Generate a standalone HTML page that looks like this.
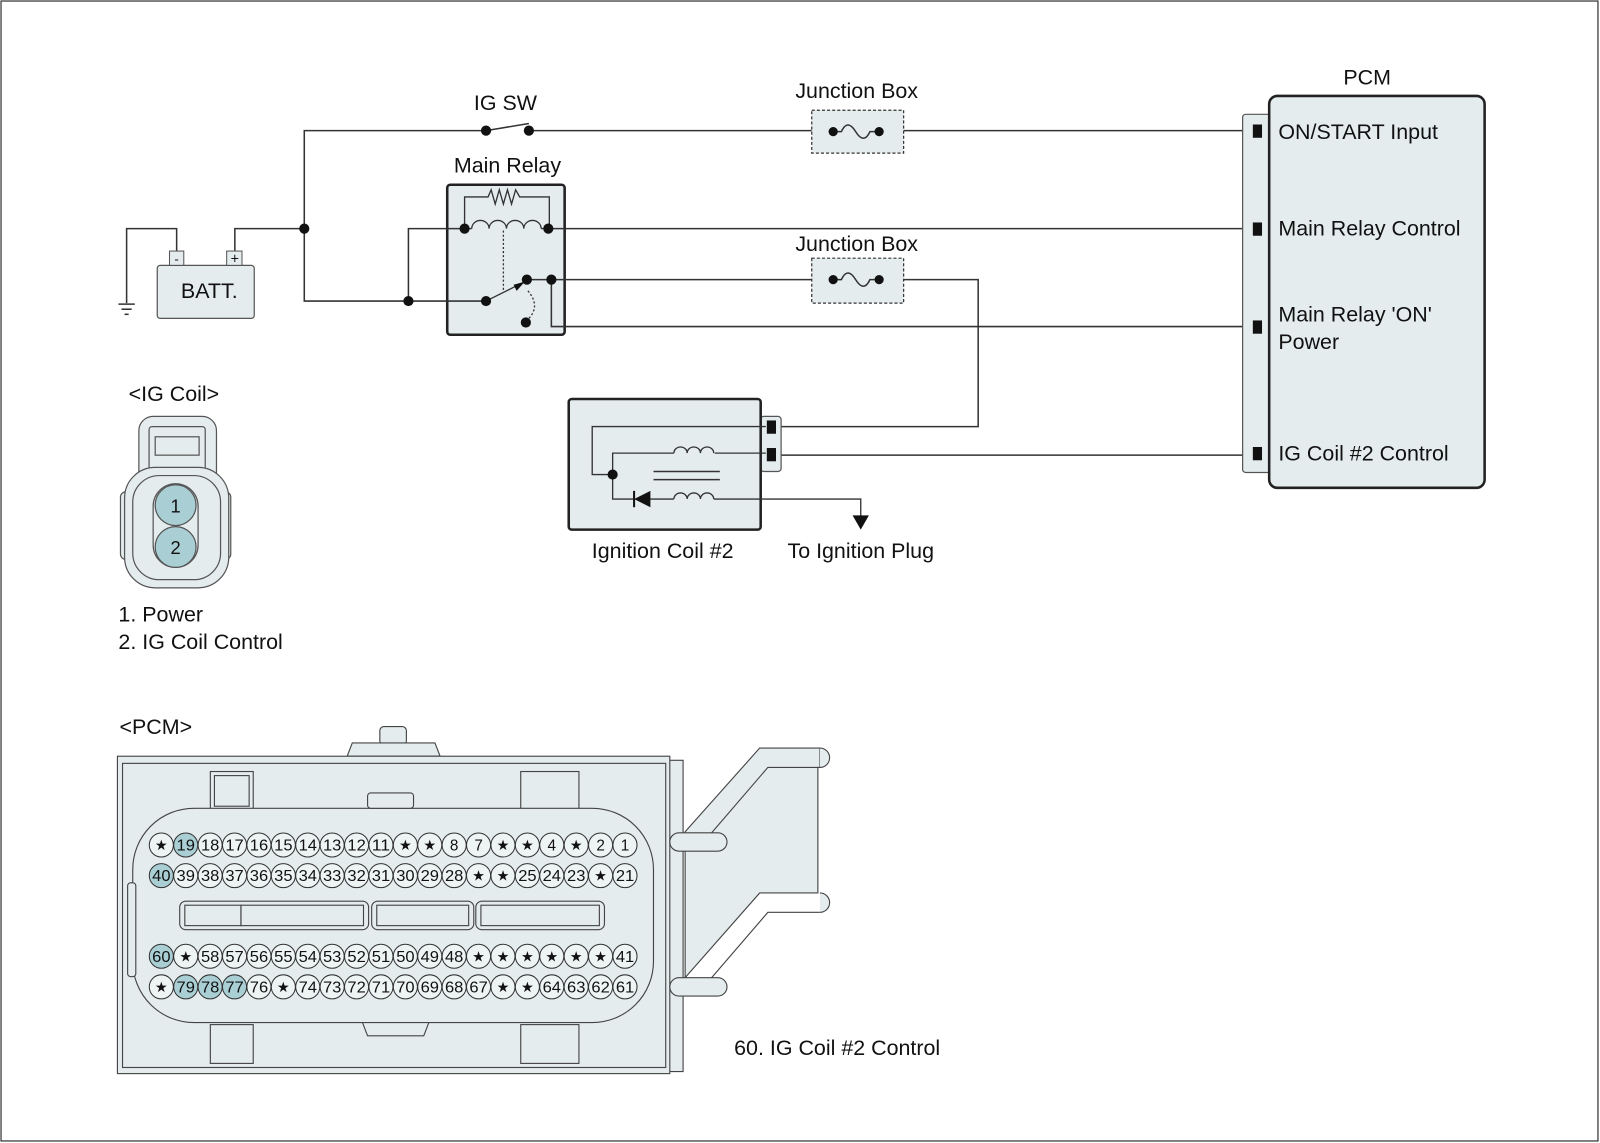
<!DOCTYPE html>
<html><head><meta charset="utf-8"><style>
html,body{margin:0;padding:0;background:#fff}
svg{display:block}
text{font-family:"Liberation Sans",Arial,sans-serif;fill:#111}
.p circle{fill:#eef3f4;stroke:#333;stroke-width:1}
.p.h circle{fill:#a9cfd5}
.p text{font-size:15px;text-anchor:middle}
.p text.s{font-family:"DejaVu Sans",sans-serif;font-size:14px}
</style></head><body>
<svg width="1600" height="1143" viewBox="0 0 1567 1120" preserveAspectRatio="none" xmlns="http://www.w3.org/2000/svg">
<rect x="1" y="1" width="1564" height="1117" fill="#fff" stroke="#333" stroke-width="1.2"/>
<!-- main relay box first -->
<rect x="438" y="181" width="115" height="147" rx="3" fill="#e4ecee" stroke="#222" stroke-width="2.5"/>
<g fill="none" stroke="#333" stroke-width="1.5">
<polyline points="476,128 298,128 298,295 476,295"/>
<line x1="518" y1="128" x2="795" y2="128"/>
<line x1="885" y1="128" x2="1228" y2="128"/>
<line x1="476" y1="128" x2="518" y2="121"/>
<polyline points="230,246 230,224 298,224"/>
<polyline points="173,246 173,224 124,224 124,297"/>
<line x1="116" y1="298" x2="132" y2="298"/><line x1="119" y1="303" x2="129" y2="303"/><line x1="122" y1="308" x2="126" y2="308"/>
<polyline points="400,295 400,224 455,224"/>
<line x1="537" y1="224" x2="1228" y2="224"/>
<line x1="540" y1="274" x2="795" y2="274"/>
<line x1="516" y1="274" x2="540" y2="274"/>
<polyline points="540,274 540,320 1228,320"/>
<polyline points="885,274 958,274 958,418 765,418"/>
<line x1="765" y1="446" x2="1228" y2="446"/>
</g>
<!-- battery -->
<rect x="154" y="260" width="95" height="52" rx="3" fill="#e4ecee" stroke="#555" stroke-width="1.2"/>
<rect x="166" y="246" width="14" height="14" fill="#e4ecee" stroke="#555"/>
<rect x="222" y="246" width="15" height="14" fill="#e4ecee" stroke="#555"/>
<text x="173" y="258" font-size="13" text-anchor="middle">-</text>
<text x="230" y="258" font-size="14" text-anchor="middle">+</text>
<text x="205" y="292" font-size="21" text-anchor="middle">BATT.</text>
<!-- labels -->
<text x="495" y="108" font-size="21" text-anchor="middle">IG SW</text>
<text x="497" y="169" font-size="21" text-anchor="middle">Main Relay</text>
<text x="839" y="96" font-size="21" text-anchor="middle">Junction Box</text>
<text x="839" y="246" font-size="21" text-anchor="middle">Junction Box</text>
<text x="1339" y="83" font-size="21" text-anchor="middle">PCM</text>
<!-- junction boxes -->
<rect x="795" y="108" width="90" height="42" fill="#e4ecee" stroke="#333" stroke-width="1.2" stroke-dasharray="3,2"/>
<path d="M816,129 L824,129 Q830,116 838,129 Q846,142 852,129 L861,129" fill="none" stroke="#333" stroke-width="1.5"/>
<circle cx="816" cy="129" r="4.5" fill="#111"/><circle cx="861" cy="129" r="4.5" fill="#111"/>
<rect x="795" y="253" width="90" height="44" fill="#e4ecee" stroke="#333" stroke-width="1.2" stroke-dasharray="3,2"/>
<path d="M816,274 L824,274 Q830,261 838,274 Q846,287 852,274 L861,274" fill="none" stroke="#333" stroke-width="1.5"/>
<circle cx="816" cy="274" r="4.5" fill="#111"/><circle cx="861" cy="274" r="4.5" fill="#111"/>
<!-- relay internals -->
<g fill="none" stroke="#333" stroke-width="1.3">
<polyline points="455,224 455,193 478,193 481,186 485,200 489,186 493,200 497,186 501,200 505,186 509,193 538,193 538,224"/>
<line x1="455" y1="224" x2="462" y2="224"/>
<path d="M462,224 a8.5,8 0 0 1 17,0 a8.5,8 0 0 1 17,0 a8.5,8 0 0 1 17,0 a8.5,8 0 0 1 17,0"/>
<line x1="530" y1="224" x2="537" y2="224"/>
<line x1="493" y1="226" x2="493" y2="286" stroke-dasharray="2,2"/>
<line x1="476" y1="295" x2="510" y2="278"/>
<path d="M517,285 Q530,300 517,313" stroke-dasharray="2,2"/>
</g>
<polygon points="514,276 503,279 506,285" fill="#111"/>
<g fill="#111">
<circle cx="298" cy="224" r="5"/><circle cx="400" cy="295" r="5"/>
<circle cx="476" cy="128" r="5"/><circle cx="518" cy="128" r="5"/>
<circle cx="455" cy="224" r="5"/><circle cx="537" cy="224" r="5"/>
<circle cx="476" cy="295" r="5"/><circle cx="516" cy="274" r="5"/><circle cx="540" cy="274" r="5"/>
<circle cx="515" cy="316" r="5"/>
</g>
<!-- PCM -->
<rect x="1217" y="112" width="30" height="351" rx="3" fill="#e4ecee" stroke="#555" stroke-width="1.2"/>
<rect x="1243" y="94" width="211" height="384" rx="8" fill="#e4ecee" stroke="#222" stroke-width="2.5"/>
<g fill="#111">
<rect x="1227" y="122" width="9" height="13"/><rect x="1227" y="218" width="9" height="13"/>
<rect x="1227" y="314" width="9" height="13"/><rect x="1227" y="438" width="9" height="13"/>
</g>
<g font-size="21">
<text x="1252" y="136">ON/START Input</text>
<text x="1252" y="231">Main Relay Control</text>
<text x="1252" y="315">Main Relay 'ON'</text>
<text x="1252" y="342">Power</text>
<text x="1252" y="451">IG Coil #2 Control</text>
</g>
<!-- ignition coil -->
<rect x="745" y="408" width="20" height="54" rx="3" fill="#e4ecee" stroke="#555" stroke-width="1.2"/>
<rect x="557" y="391" width="188" height="128" rx="3" fill="#e4ecee" stroke="#222" stroke-width="2.5"/>
<g fill="none" stroke="#333" stroke-width="1.3">
<polyline points="750,418 580,418 580,465 600,465"/>
<polyline points="750,444 700,444"/>
<path d="M660,444 a6.5,6 0 0 1 13,0 a6.5,6 0 0 1 13,0 a6.5,6 0 0 1 13,0"/>
<polyline points="660,444 600,444 600,489 622,489"/>
<line x1="637" y1="489" x2="660" y2="489"/>
<path d="M660,489 a6.5,6 0 0 1 13,0 a6.5,6 0 0 1 13,0 a6.5,6 0 0 1 13,0"/>
<polyline points="699,489 843,489 843,506"/>
<line x1="640" y1="462" x2="705" y2="462" stroke-width="1.5"/>
<line x1="640" y1="470" x2="705" y2="470" stroke-width="1.5"/>
</g>
<polygon points="621,489 637,481 637,497" fill="#111"/>
<line x1="621" y1="481" x2="621" y2="497" stroke="#111" stroke-width="2"/>
<polygon points="835,505 851,505 843,519" fill="#111"/>
<circle cx="600" cy="465" r="5" fill="#111"/>
<rect x="751" y="412" width="9" height="13" fill="#111"/><rect x="751" y="439" width="9" height="13" fill="#111"/>
<text x="649" y="547" font-size="21" text-anchor="middle">Ignition Coil #2</text>
<text x="843" y="547" font-size="21" text-anchor="middle">To Ignition Plug</text>
<!-- IG coil connector -->
<text x="126" y="393" font-size="21">&lt;IG Coil&gt;</text>
<g stroke="#555" stroke-width="1.2" fill="#e4ecee">
<rect x="118" y="482" width="14" height="66" rx="5"/>
<rect x="212" y="482" width="14" height="66" rx="5"/>
<rect x="136" y="408" width="76" height="72" rx="14"/>
<rect x="146" y="418" width="55" height="56" rx="3"/>
<rect x="152" y="428" width="43" height="18" fill="none"/>
<rect x="122" y="458" width="102" height="118" rx="30"/>
<rect x="130" y="466" width="86" height="102" rx="26"/>
<rect x="150" y="474" width="44" height="82" rx="22"/>
<circle cx="172" cy="495" r="20" fill="#a9cfd5"/>
<circle cx="172" cy="536" r="20" fill="#a9cfd5"/>
</g>
<text x="172" y="502" font-size="18" text-anchor="middle">1</text>
<text x="172" y="543" font-size="18" text-anchor="middle">2</text>
<text x="116" y="609" font-size="21">1. Power</text>
<text x="116" y="636" font-size="21">2. IG Coil Control</text>
<!-- PCM connector -->
<text x="117" y="719" font-size="21">&lt;PCM&gt;</text>
<g stroke="#444" stroke-width="1.1" fill="#e4ecee">
<polygon points="671,815 744,733 803,733 803,752 801,752 801,875 744,875 671,958"/>
<path d="M803,733 a9.5,9.5 0 0 1 0,19 M803,875 a9.5,9.5 0 0 1 0,19"/>
<polyline points="803,894 752,894 697,958" fill="none"/>
<polyline points="803,752 752,752 697,816" fill="none"/>
<rect x="372" y="712" width="26" height="18" rx="4"/>
<path d="M340,741 L345,728 L426,728 L431,741 Z"/>
<rect x="655" y="745" width="14" height="305"/>
<rect x="115" y="741" width="541" height="311"/>
<rect x="120" y="748" width="532" height="298" fill="none"/>
<rect x="656" y="816" width="56" height="18" rx="9"/>
<rect x="656" y="958" width="56" height="18" rx="9"/>
<rect x="206" y="756" width="42" height="38"/>
<rect x="210" y="760" width="34" height="30" fill="none"/>
<rect x="510" y="756" width="57" height="40"/>
<rect x="206" y="1004" width="42" height="38"/>
<rect x="510" y="1004" width="57" height="38"/>
<rect x="130" y="792" width="510" height="210" rx="60"/>
<rect x="360" y="777" width="45" height="15" rx="3"/>
<path d="M355,1002 L360,1015 L415,1015 L420,1002" fill="none"/>
<rect x="125" y="865" width="8" height="92" rx="3"/>
<rect x="176" y="883" width="185" height="28" rx="6"/>
<rect x="181" y="887" width="55" height="20" fill="none"/>
<rect x="236" y="887" width="120" height="20" fill="none"/>
<rect x="364" y="883" width="100" height="28" rx="6"/>
<rect x="369" y="887" width="90" height="20" fill="none"/>
<rect x="466" y="883" width="126" height="28" rx="6"/>
<rect x="471" y="887" width="116" height="20" fill="none"/>
</g>
<!-- pins row 1 -->
<g transform="translate(0,828)">
<g class="p" transform="translate(158,0)"><circle r="11.8"/><text class="s" y="5">★</text></g>
<g class="p h" transform="translate(181.9,0)"><circle r="11.8"/><text y="5.5" textLength="18" lengthAdjust="spacingAndGlyphs">19</text></g>
<g class="p" transform="translate(205.8,0)"><circle r="11.8"/><text y="5.5" textLength="18" lengthAdjust="spacingAndGlyphs">18</text></g>
<g class="p" transform="translate(229.7,0)"><circle r="11.8"/><text y="5.5" textLength="18" lengthAdjust="spacingAndGlyphs">17</text></g>
<g class="p" transform="translate(253.6,0)"><circle r="11.8"/><text y="5.5" textLength="18" lengthAdjust="spacingAndGlyphs">16</text></g>
<g class="p" transform="translate(277.5,0)"><circle r="11.8"/><text y="5.5" textLength="18" lengthAdjust="spacingAndGlyphs">15</text></g>
<g class="p" transform="translate(301.4,0)"><circle r="11.8"/><text y="5.5" textLength="18" lengthAdjust="spacingAndGlyphs">14</text></g>
<g class="p" transform="translate(325.3,0)"><circle r="11.8"/><text y="5.5" textLength="18" lengthAdjust="spacingAndGlyphs">13</text></g>
<g class="p" transform="translate(349.2,0)"><circle r="11.8"/><text y="5.5" textLength="18" lengthAdjust="spacingAndGlyphs">12</text></g>
<g class="p" transform="translate(373.1,0)"><circle r="11.8"/><text y="5.5" textLength="18" lengthAdjust="spacingAndGlyphs">11</text></g>
<g class="p" transform="translate(397,0)"><circle r="11.8"/><text class="s" y="5">★</text></g>
<g class="p" transform="translate(420.9,0)"><circle r="11.8"/><text class="s" y="5">★</text></g>
<g class="p" transform="translate(444.8,0)"><circle r="11.8"/><text y="5.5">8</text></g>
<g class="p" transform="translate(468.7,0)"><circle r="11.8"/><text y="5.5">7</text></g>
<g class="p" transform="translate(492.6,0)"><circle r="11.8"/><text class="s" y="5">★</text></g>
<g class="p" transform="translate(516.5,0)"><circle r="11.8"/><text class="s" y="5">★</text></g>
<g class="p" transform="translate(540.4,0)"><circle r="11.8"/><text y="5.5">4</text></g>
<g class="p" transform="translate(564.3,0)"><circle r="11.8"/><text class="s" y="5">★</text></g>
<g class="p" transform="translate(588.2,0)"><circle r="11.8"/><text y="5.5">2</text></g>
<g class="p" transform="translate(612.1,0)"><circle r="11.8"/><text y="5.5">1</text></g>
</g>
<!-- row 2 -->
<g transform="translate(0,858)">
<g class="p h" transform="translate(158,0)"><circle r="11.8"/><text y="5.5" textLength="18" lengthAdjust="spacingAndGlyphs">40</text></g>
<g class="p" transform="translate(181.9,0)"><circle r="11.8"/><text y="5.5" textLength="18" lengthAdjust="spacingAndGlyphs">39</text></g>
<g class="p" transform="translate(205.8,0)"><circle r="11.8"/><text y="5.5" textLength="18" lengthAdjust="spacingAndGlyphs">38</text></g>
<g class="p" transform="translate(229.7,0)"><circle r="11.8"/><text y="5.5" textLength="18" lengthAdjust="spacingAndGlyphs">37</text></g>
<g class="p" transform="translate(253.6,0)"><circle r="11.8"/><text y="5.5" textLength="18" lengthAdjust="spacingAndGlyphs">36</text></g>
<g class="p" transform="translate(277.5,0)"><circle r="11.8"/><text y="5.5" textLength="18" lengthAdjust="spacingAndGlyphs">35</text></g>
<g class="p" transform="translate(301.4,0)"><circle r="11.8"/><text y="5.5" textLength="18" lengthAdjust="spacingAndGlyphs">34</text></g>
<g class="p" transform="translate(325.3,0)"><circle r="11.8"/><text y="5.5" textLength="18" lengthAdjust="spacingAndGlyphs">33</text></g>
<g class="p" transform="translate(349.2,0)"><circle r="11.8"/><text y="5.5" textLength="18" lengthAdjust="spacingAndGlyphs">32</text></g>
<g class="p" transform="translate(373.1,0)"><circle r="11.8"/><text y="5.5" textLength="18" lengthAdjust="spacingAndGlyphs">31</text></g>
<g class="p" transform="translate(397,0)"><circle r="11.8"/><text y="5.5" textLength="18" lengthAdjust="spacingAndGlyphs">30</text></g>
<g class="p" transform="translate(420.9,0)"><circle r="11.8"/><text y="5.5" textLength="18" lengthAdjust="spacingAndGlyphs">29</text></g>
<g class="p" transform="translate(444.8,0)"><circle r="11.8"/><text y="5.5" textLength="18" lengthAdjust="spacingAndGlyphs">28</text></g>
<g class="p" transform="translate(468.7,0)"><circle r="11.8"/><text class="s" y="5">★</text></g>
<g class="p" transform="translate(492.6,0)"><circle r="11.8"/><text class="s" y="5">★</text></g>
<g class="p" transform="translate(516.5,0)"><circle r="11.8"/><text y="5.5" textLength="18" lengthAdjust="spacingAndGlyphs">25</text></g>
<g class="p" transform="translate(540.4,0)"><circle r="11.8"/><text y="5.5" textLength="18" lengthAdjust="spacingAndGlyphs">24</text></g>
<g class="p" transform="translate(564.3,0)"><circle r="11.8"/><text y="5.5" textLength="18" lengthAdjust="spacingAndGlyphs">23</text></g>
<g class="p" transform="translate(588.2,0)"><circle r="11.8"/><text class="s" y="5">★</text></g>
<g class="p" transform="translate(612.1,0)"><circle r="11.8"/><text y="5.5" textLength="18" lengthAdjust="spacingAndGlyphs">21</text></g>
</g>
<!-- row 3 -->
<g transform="translate(0,937)">
<g class="p h" transform="translate(158,0)"><circle r="11.8"/><text y="5.5" textLength="18" lengthAdjust="spacingAndGlyphs">60</text></g>
<g class="p" transform="translate(181.9,0)"><circle r="11.8"/><text class="s" y="5">★</text></g>
<g class="p" transform="translate(205.8,0)"><circle r="11.8"/><text y="5.5" textLength="18" lengthAdjust="spacingAndGlyphs">58</text></g>
<g class="p" transform="translate(229.7,0)"><circle r="11.8"/><text y="5.5" textLength="18" lengthAdjust="spacingAndGlyphs">57</text></g>
<g class="p" transform="translate(253.6,0)"><circle r="11.8"/><text y="5.5" textLength="18" lengthAdjust="spacingAndGlyphs">56</text></g>
<g class="p" transform="translate(277.5,0)"><circle r="11.8"/><text y="5.5" textLength="18" lengthAdjust="spacingAndGlyphs">55</text></g>
<g class="p" transform="translate(301.4,0)"><circle r="11.8"/><text y="5.5" textLength="18" lengthAdjust="spacingAndGlyphs">54</text></g>
<g class="p" transform="translate(325.3,0)"><circle r="11.8"/><text y="5.5" textLength="18" lengthAdjust="spacingAndGlyphs">53</text></g>
<g class="p" transform="translate(349.2,0)"><circle r="11.8"/><text y="5.5" textLength="18" lengthAdjust="spacingAndGlyphs">52</text></g>
<g class="p" transform="translate(373.1,0)"><circle r="11.8"/><text y="5.5" textLength="18" lengthAdjust="spacingAndGlyphs">51</text></g>
<g class="p" transform="translate(397,0)"><circle r="11.8"/><text y="5.5" textLength="18" lengthAdjust="spacingAndGlyphs">50</text></g>
<g class="p" transform="translate(420.9,0)"><circle r="11.8"/><text y="5.5" textLength="18" lengthAdjust="spacingAndGlyphs">49</text></g>
<g class="p" transform="translate(444.8,0)"><circle r="11.8"/><text y="5.5" textLength="18" lengthAdjust="spacingAndGlyphs">48</text></g>
<g class="p" transform="translate(468.7,0)"><circle r="11.8"/><text class="s" y="5">★</text></g>
<g class="p" transform="translate(492.6,0)"><circle r="11.8"/><text class="s" y="5">★</text></g>
<g class="p" transform="translate(516.5,0)"><circle r="11.8"/><text class="s" y="5">★</text></g>
<g class="p" transform="translate(540.4,0)"><circle r="11.8"/><text class="s" y="5">★</text></g>
<g class="p" transform="translate(564.3,0)"><circle r="11.8"/><text class="s" y="5">★</text></g>
<g class="p" transform="translate(588.2,0)"><circle r="11.8"/><text class="s" y="5">★</text></g>
<g class="p" transform="translate(612.1,0)"><circle r="11.8"/><text y="5.5" textLength="18" lengthAdjust="spacingAndGlyphs">41</text></g>
</g>
<!-- row 4 -->
<g transform="translate(0,967)">
<g class="p" transform="translate(158,0)"><circle r="11.8"/><text class="s" y="5">★</text></g>
<g class="p h" transform="translate(181.9,0)"><circle r="11.8"/><text y="5.5" textLength="18" lengthAdjust="spacingAndGlyphs">79</text></g>
<g class="p h" transform="translate(205.8,0)"><circle r="11.8"/><text y="5.5" textLength="18" lengthAdjust="spacingAndGlyphs">78</text></g>
<g class="p h" transform="translate(229.7,0)"><circle r="11.8"/><text y="5.5" textLength="18" lengthAdjust="spacingAndGlyphs">77</text></g>
<g class="p" transform="translate(253.6,0)"><circle r="11.8"/><text y="5.5" textLength="18" lengthAdjust="spacingAndGlyphs">76</text></g>
<g class="p" transform="translate(277.5,0)"><circle r="11.8"/><text class="s" y="5">★</text></g>
<g class="p" transform="translate(301.4,0)"><circle r="11.8"/><text y="5.5" textLength="18" lengthAdjust="spacingAndGlyphs">74</text></g>
<g class="p" transform="translate(325.3,0)"><circle r="11.8"/><text y="5.5" textLength="18" lengthAdjust="spacingAndGlyphs">73</text></g>
<g class="p" transform="translate(349.2,0)"><circle r="11.8"/><text y="5.5" textLength="18" lengthAdjust="spacingAndGlyphs">72</text></g>
<g class="p" transform="translate(373.1,0)"><circle r="11.8"/><text y="5.5" textLength="18" lengthAdjust="spacingAndGlyphs">71</text></g>
<g class="p" transform="translate(397,0)"><circle r="11.8"/><text y="5.5" textLength="18" lengthAdjust="spacingAndGlyphs">70</text></g>
<g class="p" transform="translate(420.9,0)"><circle r="11.8"/><text y="5.5" textLength="18" lengthAdjust="spacingAndGlyphs">69</text></g>
<g class="p" transform="translate(444.8,0)"><circle r="11.8"/><text y="5.5" textLength="18" lengthAdjust="spacingAndGlyphs">68</text></g>
<g class="p" transform="translate(468.7,0)"><circle r="11.8"/><text y="5.5" textLength="18" lengthAdjust="spacingAndGlyphs">67</text></g>
<g class="p" transform="translate(492.6,0)"><circle r="11.8"/><text class="s" y="5">★</text></g>
<g class="p" transform="translate(516.5,0)"><circle r="11.8"/><text class="s" y="5">★</text></g>
<g class="p" transform="translate(540.4,0)"><circle r="11.8"/><text y="5.5" textLength="18" lengthAdjust="spacingAndGlyphs">64</text></g>
<g class="p" transform="translate(564.3,0)"><circle r="11.8"/><text y="5.5" textLength="18" lengthAdjust="spacingAndGlyphs">63</text></g>
<g class="p" transform="translate(588.2,0)"><circle r="11.8"/><text y="5.5" textLength="18" lengthAdjust="spacingAndGlyphs">62</text></g>
<g class="p" transform="translate(612.1,0)"><circle r="11.8"/><text y="5.5" textLength="18" lengthAdjust="spacingAndGlyphs">61</text></g>
</g>
<text x="719" y="1034" font-size="21">60. IG Coil #2 Control</text>
</svg>
</body></html>
